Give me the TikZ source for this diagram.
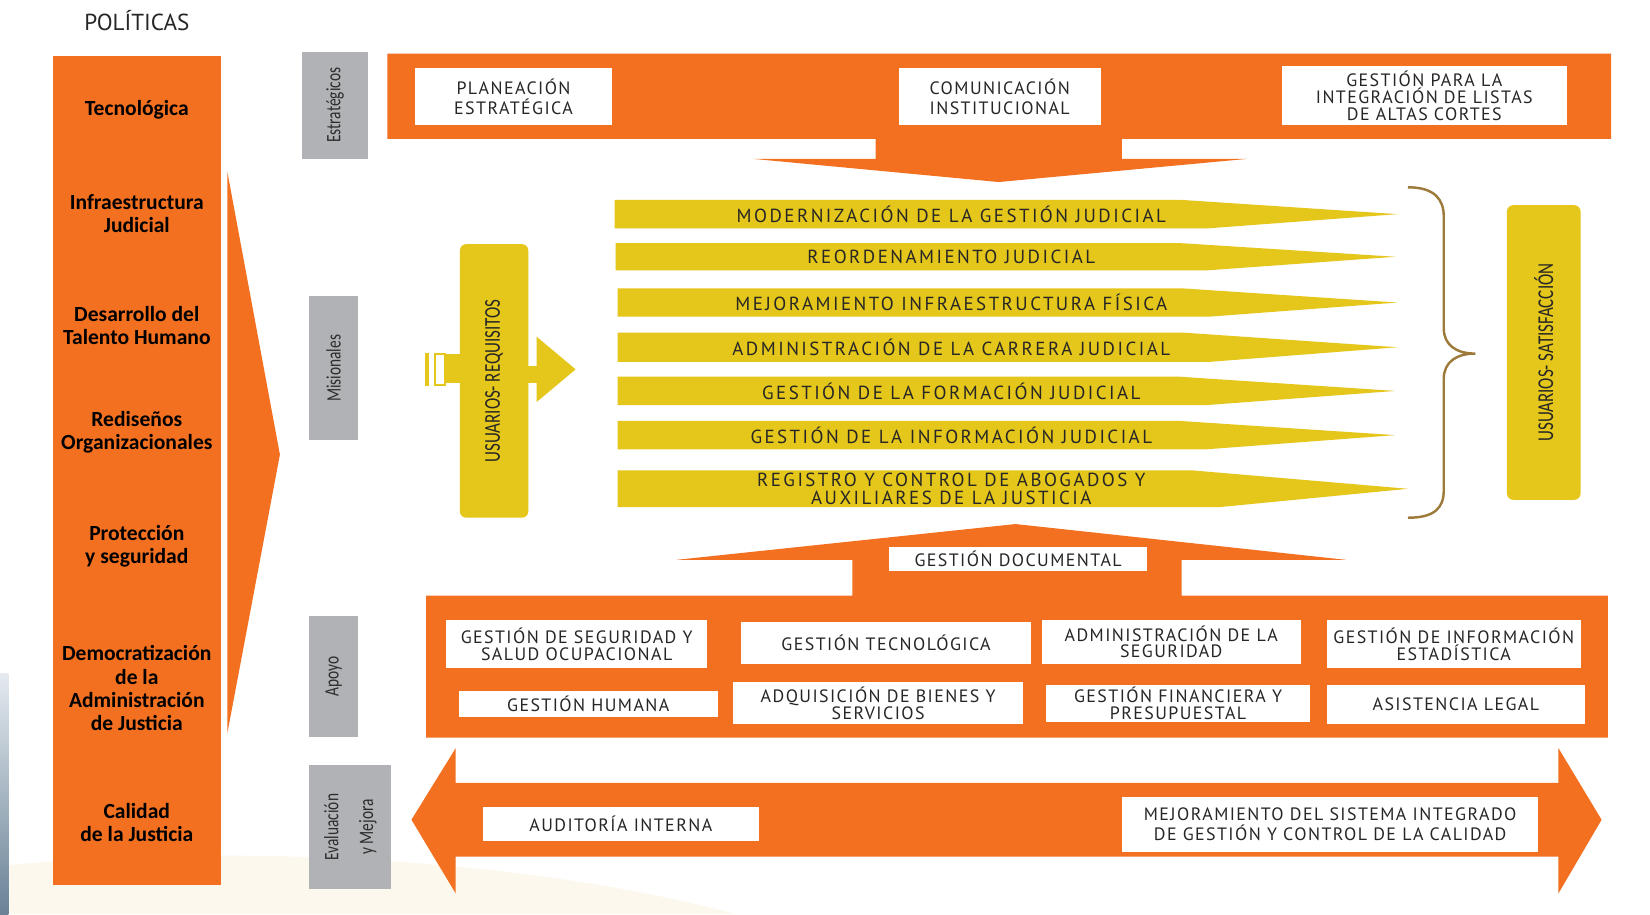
\documentclass[tikz,border=0pt]{standalone}
\usepackage{fontspec}
\setmainfont{PT Sans}
\newfontfamily\boxfont{PT Sans}[LetterSpace=8]
\newfontfamily\barfont{PT Sans}[LetterSpace=13]
\newfontfamily\polfont{Carlito}
\newfontfamily\condfont{Carlito}[FakeStretch=0.75]
\definecolor{org}{RGB}{243,112,33}
\definecolor{yel}{RGB}{229,198,26}
\definecolor{gr}{RGB}{177,178,182}
\definecolor{txt}{RGB}{38,38,38}
\definecolor{gtxt}{RGB}{45,45,45}
\definecolor{brk}{RGB}{158,122,58}
\definecolor{cream}{RGB}{253,248,238}
\tikzset{
  wbox/.style={fill=white, inner sep=0pt, align=center, text=txt, font=\boxfont\fontsize{17}{16}\selectfont},
  pol/.style={align=center, text=black, font=\polfont\bfseries\fontsize{20.5}{22}\selectfont},
  glabel/.style={fill=gr, inner sep=0pt, rotate=90, align=center, text=gtxt, font=\condfont\fontsize{19.5}{18}\selectfont},
  bartext/.style={text=txt, align=center, inner sep=0pt, font=\barfont\fontsize{18}{18}\selectfont},
  ubox/.style={fill=yel, rounded corners=6pt, inner sep=0pt, rotate=90, text=txt, font=\condfont\fontsize{21.5}{20}\selectfont},
}
\begin{document}
\begin{tikzpicture}[x=1pt,y=-1pt]
\useasboundingbox (0,0) rectangle (1568,869);
\fill[white] (0,0) rectangle (1568,869);
% background traces
\fill[cream] (9,869) -- (9,822) .. controls (250,800) and (520,820) .. (700,869) -- cycle;
\shade[top color={rgb,255:red,228;green,234;blue,239}, bottom color={rgb,255:red,105;green,130;blue,150}] (0,640) rectangle (8,869);

% title
\node[text=txt, font=\fontsize{22}{22}\selectfont] (titulo) at (130,20) {POLÍTICAS};

% policies column
\node[fill=org, minimum width=160, minimum height=788, inner sep=0pt] (polcol) at (130,447) {};
\node[pol] (p1) at (130,104) {Tecnológica};
\node[pol] (p2) at (130,203) {Infraestructura\\Judicial};
\node[pol] (p3) at (130,309) {Desarrollo del\\Talento Humano};
\node[pol] (p4) at (130,411) {Rediseños\\Organizacionales};
\node[pol] (p5) at (130,519) {Protección\\y seguridad};
\node[pol] (p6) at (130,654) {Democratización\\de la\\Administración\\de Justicia};
\node[pol] (p7) at (130,782) {Calidad\\de la  Justicia};
\fill[org] (216,163) -- (266,432) -- (216,697) -- cycle;

% grey process labels
\node[glabel, minimum width=102, minimum height=63] (estr) at (318.5,100) {Estratégicos};
\node[glabel, minimum width=137, minimum height=46] (mis) at (317,350) {Misionales};
\node[glabel, minimum width=115, minimum height=46] (apoyo) at (317,643) {Apoyo};
\node[glabel, minimum width=118, minimum height=78, font=\condfont\fontsize{19.5}{33}\selectfont] (eval) at (333,786) {Evaluación\\y Mejora};

% strategic band with arrow
\fill[org] (368,51) -- (1531,51) -- (1531,132) -- (1066,132) -- (1066,151) -- (1185,151)
  -- (949,173) -- (716,151) -- (832,151) -- (832,132) -- (368,132) -- cycle;
\node[wbox, minimum width=188, minimum height=54, font=\boxfont\fontsize{17}{19}\selectfont] (plan) at (488,92) {PLANEACIÓN\\ESTRATÉGICA};
\node[wbox, minimum width=192, minimum height=54, font=\boxfont\fontsize{17}{19}\selectfont] (comu) at (950,92) {COMUNICACIÓN\\INSTITUCIONAL};
\node[wbox, minimum width=271, minimum height=56, font=\boxfont\fontsize{17}{16}\selectfont] (altas) at (1353.5,91) {GESTIÓN PARA LA\\INTEGRACIÓN DE LISTAS\\DE ALTAS CORTES};

% misional bars
\fill[yel] (584,190) -- (1123,190) -- (1328,203.5) -- (1148,217) -- (584,217) -- cycle;
\node[bartext] (b1) at (904,203.5) {MODERNIZACIÓN DE LA GESTIÓN JUDICIAL};
\fill[yel] (585,231) -- (1121,231) -- (1326,244) -- (1146,257) -- (585,257) -- cycle;
\node[bartext] (b2) at (904,244) {REORDENAMIENTO JUDICIAL};
\fill[yel] (587,274) -- (1123,274) -- (1328,287.5) -- (1148,301) -- (587,301) -- cycle;
\node[bartext] (b3) at (904,287.5) {MEJORAMIENTO INFRAESTRUCTURA FÍSICA};
\fill[yel] (587,316) -- (1123,316) -- (1328,330) -- (1148,344) -- (587,344) -- cycle;
\node[bartext] (b4) at (904,330) {ADMINISTRACIÓN DE LA CARRERA JUDICIAL};
\fill[yel] (587,358) -- (1121,358) -- (1326,371.5) -- (1146,385) -- (587,385) -- cycle;
\node[bartext] (b5) at (904,371.5) {GESTIÓN DE LA FORMACIÓN JUDICIAL};
\fill[yel] (587,400) -- (1121,400) -- (1326,413.5) -- (1146,427) -- (587,427) -- cycle;
\node[bartext] (b6) at (904,413.5) {GESTIÓN DE LA INFORMACIÓN JUDICIAL};
\fill[yel] (587,447) -- (1133,447) -- (1338,464.5) -- (1158,482) -- (587,482) -- cycle;
\node[bartext, font=\barfont\fontsize{18}{17.5}\selectfont] (b7) at (904,464.5) {REGISTRO Y CONTROL DE ABOGADOS Y\\AUXILIARES DE LA JUSTICIA};

% users - requirements
\node[ubox, minimum width=260, minimum height=65] (ureq) at (469.5,362) {USUARIOS- REQUISITOS};
\fill[yel] (ureq.south) ++(0,-14) rectangle (510,364);
\fill[yel] (510,320) -- (547,351) -- (510,382) -- cycle;
\fill[yel] (424,336) rectangle (ureq.north |- 0,364);
\draw[yel, line width=2.5pt, fill=white] (413.5,336.5) rectangle (423,366);
\fill[yel] (404,335) rectangle (408,367);

% bracket and satisfaction
\draw[brk, line width=2.3pt] (1338,178) .. controls (1364,178) and (1372,190) .. (1372,206) -- (1372,312)
  .. controls (1372,328) and (1384,336) .. (1402,336) .. controls (1384,336) and (1372,344) .. (1372,360)
  -- (1372,466) .. controls (1372,482) and (1364,492) .. (1338,492);
\node[ubox, minimum width=280, minimum height=70] (usat) at (1467,335) {USUARIOS- SATISFACCIÓN};

% support band with arrow
\fill[org] (405,566) -- (810,566) -- (810,532) -- (643,532) -- (965,498) -- (1279,532) -- (1123,532)
  -- (1123,566) -- (1528,566) -- (1528,701) -- (405,701) -- cycle;
\node[wbox, minimum width=245, minimum height=23] (docu) at (967.5,531.5) {GESTIÓN DOCUMENTAL};
\node[wbox, minimum width=248, minimum height=46] (segsal) at (548,612) {GESTIÓN DE SEGURIDAD Y\\SALUD OCUPACIONAL};
\node[wbox, minimum width=276, minimum height=40] (tecno) at (842,611) {GESTIÓN TECNOLÓGICA};
\node[wbox, minimum width=246, minimum height=42] (admseg) at (1113,610) {ADMINISTRACIÓN DE LA\\SEGURIDAD};
\node[wbox, minimum width=241, minimum height=46] (infest) at (1381.5,612) {GESTIÓN DE INFORMACIÓN\\ESTADÍSTICA};
\node[wbox, minimum width=246, minimum height=24] (humana) at (559,669) {GESTIÓN HUMANA};
\node[wbox, minimum width=275, minimum height=40] (adq) at (834.5,668) {ADQUISICIÓN DE BIENES Y\\SERVICIOS};
\node[wbox, minimum width=251, minimum height=35] (fin) at (1119.5,668.5) {GESTIÓN FINANCIERA Y\\PRESUPUESTAL};
\node[wbox, minimum width=245, minimum height=37] (legal) at (1383.5,669.5) {ASISTENCIA LEGAL};

% evaluation double arrow
\fill[org] (391,779) -- (433,711) -- (433,744) -- (1481,744) -- (1481,711) -- (1522,779) -- (1481,849)
  -- (1481,814) -- (433,814) -- (433,849) -- cycle;
\node[wbox, minimum width=262, minimum height=32] (audit) at (590,783) {AUDITORÍA INTERNA};
\node[wbox, minimum width=396, minimum height=53, font=\boxfont\fontsize{17}{19}\selectfont] (mejora) at (1264,783.5) {MEJORAMIENTO DEL SISTEMA INTEGRADO\\DE GESTIÓN Y CONTROL DE LA CALIDAD};
\end{tikzpicture}
\end{document}
